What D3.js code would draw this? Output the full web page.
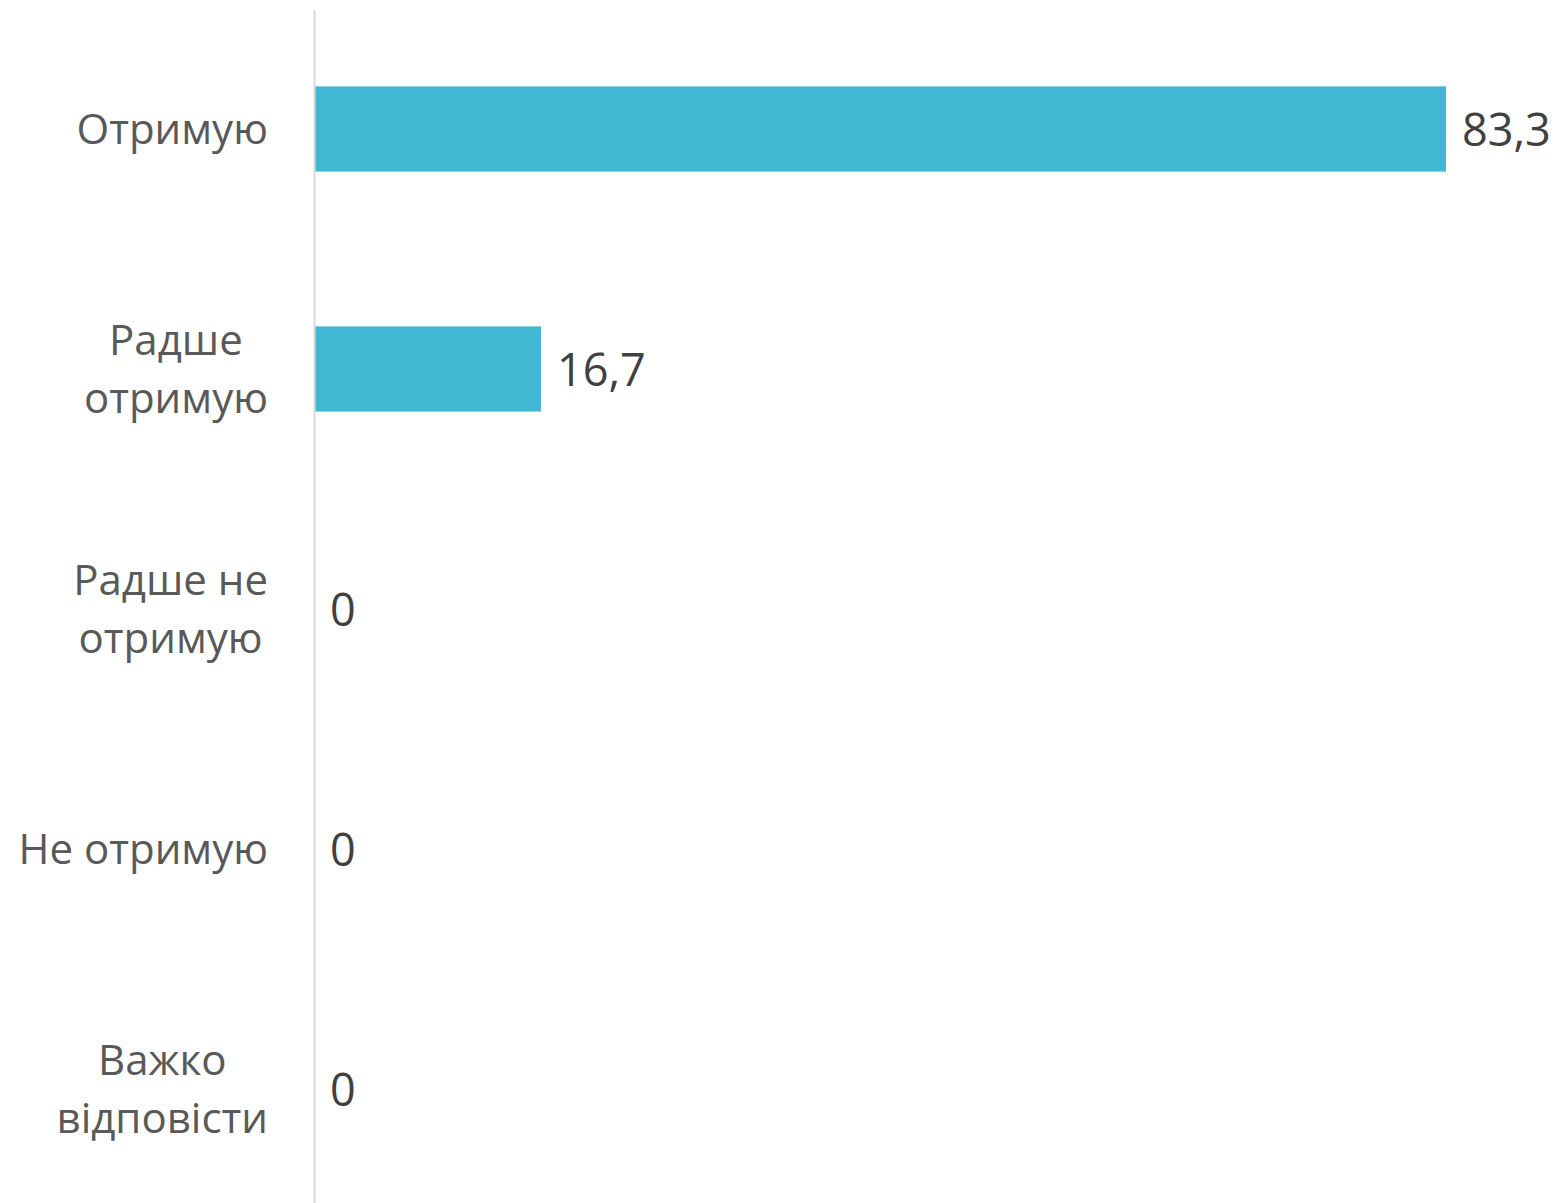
<!DOCTYPE html>
<html>
<head>
<meta charset="utf-8">
<script src="https://cdn.jsdelivr.net/npm/d3@7"></script>
<style>
  html, body { margin: 0; padding: 0; background: #fff; }
  #chart { width: 1558px; height: 1203px; }
</style>
</head>
<body>
<div id="chart"></div>
<script>
// Categories (each label split into its lines) and values
var categories = ['Отримую', 'Радше отримую', 'Радше не отримую', 'Не отримую', 'Важко відповісти'];
var label_lines = [['Отримую'], ['Радше', 'отримую'], ['Радше не', 'отримую'], ['Не отримую'], ['Важко', 'відповісти']];
var values = [83.3, 16.7, 0, 0, 0];
var value_labels = ['83,3', '16,7', '0', '0', '0'];

var margin = {top: 9, right: 112, bottom: -6, left: 314};
var width = 1558 - margin.left - margin.right;
var height = 1203 - margin.top - margin.bottom;

var svg = d3.select('#chart').append('svg')
    .attr('width', 1558)
    .attr('height', 1203)
    .append('g')
    .attr('transform', 'translate(' + margin.left + ',' + margin.top + ')');

var x = d3.scaleLinear().domain([0, 83.3]).range([0, width]);
var y = d3.scaleBand().domain(categories).range([0, height]).paddingInner(0.645).paddingOuter(0.3225);

// Bars
svg.selectAll('rect.bar')
    .data(values)
    .enter().append('rect')
    .attr('class', 'bar')
    .attr('x', x(0))
    .attr('y', function(d, i) { return y(categories[i]); })
    .attr('width', function(d) { return x(d) - x(0); })
    .attr('height', y.bandwidth())
    .style('fill', '#41b8d2');

// Vertical axis line
svg.append('line')
    .attr('x1', 0.5).attr('x2', 0.5)
    .attr('y1', 1).attr('y2', height + 10)
    .style('stroke', '#d9d9d9')
    .style('stroke-width', 2);

// Value labels
svg.selectAll('text.value')
    .data(values)
    .enter().append('text')
    .attr('class', 'value')
    .attr('x', function(d) { return x(d) + 16; })
    .attr('y', function(d, i) { return y(categories[i]) + y.bandwidth() / 2 + 17; })
    .style('font-family', 'Open Sans, sans-serif')
    .style('font-size', '45px')
    .style('fill', '#404040')
    .text(function(d, i) { return value_labels[i]; });

// Category labels, each block right-aligned, lines centred within the block
var line_h = 58;
var groups = svg.selectAll('g.cat')
    .data(categories)
    .enter().append('g')
    .attr('class', 'cat');

groups.each(function(c, i) {
    var g = d3.select(this);
    var lines = label_lines[i];
    var cy = y(c) + y.bandwidth() / 2;
    var texts = g.selectAll('text')
        .data(lines)
        .enter().append('text')
        .attr('y', function(d, j) { return cy + (j - (lines.length - 1) / 2) * line_h + 15; })
        .style('font-family', 'Open Sans, sans-serif')
        .style('font-size', '42px')
        .style('fill', '#595959')
        .style('text-anchor', 'middle')
        .text(function(d) { return d; });
    var maxw = 0;
    texts.each(function() { maxw = Math.max(maxw, this.getComputedTextLength()); });
    texts.attr('x', -46 - maxw / 2);
});
</script>
</body>
</html>
